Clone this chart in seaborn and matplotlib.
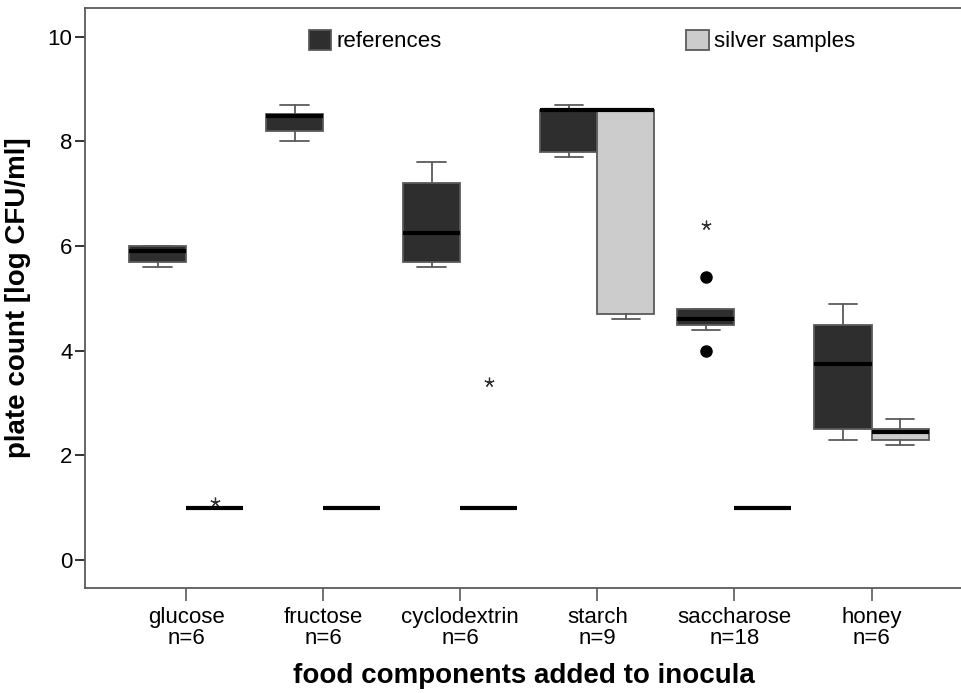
import matplotlib
matplotlib.use("Agg")
import matplotlib.pyplot as plt
from matplotlib.patches import Patch
import seaborn as sns
import numpy as np

categories = ['glucose', 'fructose', 'cyclodextrin', 'starch', 'saccharose', 'honey']
n_labels = ['n=6', 'n=6', 'n=6', 'n=9', 'n=18', 'n=6']
series = ['references', 'silver samples']

ref_whislo = [5.6, 8.0, 5.6, 7.7, 4.4, 2.3]
ref_q1 = [5.7, 8.2, 5.7, 7.8, 4.5, 2.5]
ref_med = [5.9, 8.48, 6.25, 8.6, 4.6, 3.75]
ref_q3 = [6.0, 8.52, 7.2, 8.6, 4.8, 4.5]
ref_whishi = [6.0, 8.7, 7.6, 8.7, 4.8, 4.9]
ref_outliers = [[], [], [], [], [4.0, 5.4], []]
ref_extremes = [[], [], [], [], [6.4], []]

sil_whislo = [1.0, 1.0, 1.0, 4.6, 1.0, 2.2]
sil_q1 = [1.0, 1.0, 1.0, 4.7, 1.0, 2.3]
sil_med = [1.0, 1.0, 1.0, 8.6, 1.0, 2.45]
sil_q3 = [1.0, 1.0, 1.0, 8.6, 1.0, 2.5]
sil_whishi = [1.0, 1.0, 1.0, 8.6, 1.0, 2.7]
sil_outliers = [[], [], [], [], [], []]
sil_extremes = [[1.1], [], [3.4], [], [], []]

colors = ['#2e2e2e', '#cccccc']

sns.set_theme(style='white')
plt.rcParams['font.family'] = ['Liberation Sans', 'DejaVu Sans']
plt.rcParams['text.color'] = 'black'
plt.rcParams['axes.labelcolor'] = 'black'

fig = plt.figure(figsize=(9.62, 6.93), dpi=100)
ax = fig.add_axes([85 / 962, 1 - 588 / 693, 1 - 85 / 962, (588 - 8) / 693])

box_w = 0.416
offsets = [-box_w / 2, box_w / 2]
edge = '#5a5a5a'

groups = [
    (ref_whislo, ref_q1, ref_med, ref_q3, ref_whishi, ref_outliers, ref_extremes),
    (sil_whislo, sil_q1, sil_med, sil_q3, sil_whishi, sil_outliers, sil_extremes),
]
x_idx = np.arange(len(categories))
for gi, (wlo, q1, med, q3, whi, outl, extr) in enumerate(groups):
    stats = []
    for i in range(len(categories)):
        stats.append(dict(whislo=wlo[i], q1=q1[i], med=med[i], q3=q3[i],
                          whishi=whi[i], fliers=outl[i]))
    pos = x_idx + offsets[gi]
    ax.bxp(stats, positions=pos, widths=box_w, capwidths=box_w / 2,
           patch_artist=True, manage_ticks=False,
           boxprops=dict(facecolor=colors[gi], edgecolor=edge, linewidth=1.3),
           whiskerprops=dict(color=edge, linewidth=1.3),
           capprops=dict(color=edge, linewidth=1.3),
           medianprops=dict(color='black', linewidth=3, solid_capstyle='butt'),
           flierprops=dict(marker='o', markerfacecolor='black', markeredgecolor='black',
                           markersize=8, linestyle='none'))
    for i in range(len(categories)):
        if extr[i]:
            ax.plot([pos[i]] * len(extr[i]), extr[i], linestyle='none',
                    marker=(5, 2, 0), markersize=7, color='#333333', markeredgewidth=0.9)

ax.set_xlim(-0.737, 5.66)
ax.set_ylim(-0.535, 10.55)
ax.set_xticks(x_idx)
ax.set_xticklabels([f'{c}\n{n}' for c, n in zip(categories, n_labels)],
                   fontsize=16, color='black', linespacing=1.0)
ax.set_yticks([0, 2, 4, 6, 8, 10])
ax.set_yticklabels(['0', '2', '4', '6', '8', '10'], fontsize=16, color='black')
ax.tick_params(axis='x', direction='out', length=9, width=1.2, color=edge, bottom=True, pad=5)
ax.tick_params(axis='y', direction='out', length=7, width=1.2, color='#111111', left=True, pad=2)

for s in ['left', 'bottom', 'top']:
    ax.spines[s].set_visible(True)
    ax.spines[s].set_color(edge)
    ax.spines[s].set_linewidth(1.3)
ax.spines['right'].set_visible(False)

ax.set_xlabel('food components added to inocula', fontsize=20, fontweight='bold', labelpad=10)
ax.set_ylabel('plate count [log CFU/ml]', fontsize=20, fontweight='bold', labelpad=12)

handles = [Patch(facecolor=colors[k], edgecolor=edge, linewidth=1.3, label=series[k]) for k in range(2)]
leg = fig.legend(handles=handles, loc='center left', bbox_to_anchor=(309 / 962, 1 - 41 / 693),
                 ncol=2, frameon=False, fontsize=16, handlelength=1.0, handleheight=1.0,
                 handletextpad=0.25, columnspacing=11.0, borderpad=0, borderaxespad=0)

fig.savefig('out.png', dpi=100)
